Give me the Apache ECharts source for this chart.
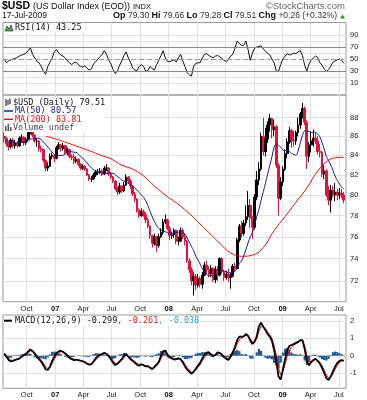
<!DOCTYPE html>
<html>
<head>
<meta charset="utf-8">
<title>$USD US Dollar Index</title>
<script src="https://cdn.jsdelivr.net/npm/echarts@6.0.0/dist/echarts.min.js"></script>
<style>
html,body{margin:0;padding:0;background:#fff;}
#chart{width:367px;height:400px;}
</style>
</head>
<body>
<div id="chart"></div>
<script>
// ---------------- data (one entry per week, Fridays from 21-Jul-2006) ----------------
const firstWeek = '2006-07-21';
// [open, close, low, high]
const ohlc = [
 [86.0,85.8,85.3,86.4],[85.8,85.2,84.9,85.9],[85.2,84.9,84.5,85.4],[84.9,85.6,84.7,85.8],[85.6,85.0,84.8,85.8],
 [85.0,85.3,84.7,85.6],[85.3,85.0,84.8,85.5],[85.0,85.8,84.9,86.0],[85.8,85.9,85.4,86.2],[85.9,85.3,85.0,86.0],
 [85.3,85.7,85.1,85.9],[85.7,86.4,85.5,86.6],[86.4,86.8,86.2,87.1],[86.8,86.1,85.9,86.9],[86.1,85.5,85.3,86.2],
 [85.5,85.5,84.9,85.8],[85.5,84.7,84.4,85.6],[84.7,84.6,84.3,85.0],[84.6,83.5,83.3,84.7],[83.5,82.7,82.4,83.6],
 [82.7,82.9,82.4,83.3],[82.9,83.9,82.8,84.2],[83.9,84.0,83.6,84.3],[84.0,83.7,83.3,84.1],[83.7,84.8,83.6,85.0],
 [84.8,85.1,84.6,85.4],[85.1,84.7,84.4,85.2],[84.7,85.0,84.5,85.3],[85.0,84.3,84.1,85.1],[84.3,84.6,84.0,84.8],
 [84.6,83.9,83.7,84.7],[83.9,83.8,83.5,84.1],[83.8,83.4,83.1,84.2],[83.4,83.6,83.2,83.9],[83.6,83.1,82.9,83.7],
 [83.1,82.7,82.5,83.2],[82.7,82.9,82.5,83.1],[82.9,82.6,82.4,83.0],[82.6,82.0,81.9,82.7],[82.0,81.6,81.4,82.1],
 [81.6,81.6,81.3,81.9],[81.6,82.0,81.5,82.2],[82.0,82.3,81.8,82.5],[82.3,82.3,82.0,82.6],[82.3,82.4,82.1,82.7],
 [82.4,82.1,81.9,82.6],[82.1,82.7,82.0,82.9],[82.7,82.7,82.4,83.1],[82.7,82.1,81.9,82.8],[82.1,81.8,81.6,82.3],
 [81.8,81.4,81.2,81.9],[81.4,80.6,80.5,81.5],[80.6,80.3,80.0,80.8],[80.3,80.9,80.1,81.2],[80.9,80.4,80.2,81.0],
 [80.4,81.0,80.3,81.3],[81.0,81.8,80.9,82.1],[81.8,81.4,81.1,81.9],[81.4,80.9,80.6,81.6],[80.9,80.1,79.9,81.0],
 [80.1,79.6,79.3,80.3],[79.6,78.5,78.3,79.7],[78.5,78.0,77.8,78.7],[78.0,78.4,77.9,78.7],[78.4,78.1,77.9,78.6],
 [78.1,77.6,77.3,78.3],[77.6,77.0,76.8,77.8],[77.0,76.1,75.8,77.1],[76.1,75.4,75.0,76.2],[75.4,76.0,75.2,76.3],
 [76.0,75.2,74.6,76.1],[75.2,76.0,75.0,76.3],[76.0,76.4,75.9,76.8],[76.4,77.4,76.2,77.7],[77.4,77.6,77.2,78.1],
 [77.6,76.8,76.6,77.7],[76.8,76.1,75.7,77.0],[76.1,76.2,75.8,76.5],[76.2,76.6,75.9,76.8],[76.6,75.6,75.3,76.7],
 [75.6,75.6,75.2,76.0],[75.6,76.6,75.5,76.9],[76.6,76.0,75.8,76.8],[76.0,75.6,75.2,76.3],[75.6,73.8,73.6,75.7],
 [73.8,73.0,72.7,74.0],[73.0,72.0,71.6,73.2],[72.0,72.4,70.7,72.8],[72.4,71.6,71.2,72.6],[71.6,72.2,71.4,72.6],
 [72.2,71.7,71.4,72.4],[71.7,72.5,71.3,72.8],[72.5,73.4,72.4,73.7],[73.4,73.0,72.6,73.8],[73.0,72.6,72.3,73.3],
 [72.6,73.1,72.3,73.4],[73.1,72.1,71.9,73.2],[72.1,73.0,71.8,73.3],[73.0,72.5,72.0,73.3],[72.5,74.0,72.4,74.1],
 [74.0,72.8,72.6,74.1],[72.8,72.3,72.0,73.0],[72.3,72.6,72.1,72.9],[72.6,72.3,71.9,73.1],[72.3,72.4,71.3,72.7],
 [72.4,73.3,72.3,73.5],[73.3,73.1,72.8,73.6],[73.1,75.7,73.0,75.9],[75.7,77.0,75.5,77.2],[77.0,76.3,76.0,77.5],
 [76.3,77.3,76.1,77.6],[77.3,77.9,77.0,79.0],[77.9,79.0,77.6,80.4],[79.0,77.8,76.8,79.6],[77.8,76.9,75.8,78.0],
 [76.9,79.8,76.7,80.1],[79.8,81.5,79.5,82.4],[81.5,82.6,81.0,83.3],[82.6,86.0,82.4,86.4],[86.0,84.4,84.0,88.0],
 [84.4,85.7,83.9,86.9],[85.7,87.2,85.3,87.6],[87.2,87.9,86.5,88.4],[87.9,86.7,85.8,88.0],[86.7,87.0,86.0,87.8],
 [87.0,83.0,82.7,87.2],[83.0,79.7,78.0,83.2],[79.7,81.3,79.5,81.8],[81.3,82.6,80.9,82.9],[82.6,84.2,82.4,84.6],
 [84.2,85.4,83.7,85.8],[85.4,86.6,85.2,87.0],[86.6,85.6,84.8,86.8],[85.6,85.5,84.9,86.6],[85.5,86.4,85.1,86.6],
 [86.4,87.2,86.0,88.0],[87.2,88.4,86.8,88.6],[88.4,89.0,87.9,89.6],[89.0,87.5,87.2,89.2],[87.5,83.9,82.6,87.7],
 [83.9,85.1,83.3,85.4],[85.1,85.5,84.3,86.5],[85.5,85.8,84.9,86.7],[85.8,85.5,85.2,86.4],[85.5,84.4,84.1,86.0],
 [84.4,84.3,83.8,85.2],[84.3,82.1,81.8,84.5],[82.1,82.4,81.6,83.0],[82.4,80.0,79.8,82.6],[80.0,79.5,79.0,80.9],
 [79.5,80.5,78.3,81.0],[80.5,80.0,79.8,80.9],[80.0,80.3,79.4,81.2],[80.3,80.0,79.5,80.6],[80.0,80.2,79.6,80.7],
 [80.2,80.0,79.7,80.6],[80.0,79.5,79.2,80.3]
];
const ma50 = [
 85.6,85.5,85.5,85.4,85.4,85.3,85.3,85.3,85.35,85.38,
 85.37,85.49,85.68,85.73,85.78,85.80,85.77,85.65,85.41,85.15,
 84.87,84.62,84.34,84.10,84.03,83.99,83.99,84.03,84.11,84.30,
 84.40,84.39,84.33,84.32,84.15,83.91,83.73,83.49,83.26,82.96,
 82.73,82.55,82.44,82.31,82.24,82.18,82.16,82.17,82.18,82.20,
 82.18,82.04,81.84,81.70,81.50,81.39,81.30,81.17,81.05,80.88,
 80.70,80.49,80.26,80.01,79.78,79.44,78.96,78.43,77.88,77.47,
 77.03,76.78,76.62,76.52,76.47,76.39,76.30,76.31,76.43,76.39,
 76.43,76.49,76.45,76.27,75.89,75.51,75.10,74.72,74.22,73.88,
 73.49,73.08,72.82,72.56,72.44,72.45,72.46,72.52,72.61,72.79,
 72.90,72.88,72.80,72.73,72.71,72.73,72.83,73.10,73.55,73.78,
 74.23,74.79,75.43,75.98,76.43,77.08,77.92,78.61,79.51,80.32,
 81.16,82.09,82.98,83.87,84.88,85.20,85.02,84.89,84.55,84.53,
 84.50,84.44,84.21,84.09,84.03,84.45,85.32,86.09,86.58,86.55,
 86.52,86.41,86.43,86.43,86.23,85.94,85.31,84.65,83.90,83.46,
 83.00,82.45,81.90,81.45,81.10,80.80,80.57
];
// MA(200): read every 5th week (week numbers counted from firstWeek)
const ma200Weeks = [19,24,29,34,39,44,49,54,59,64,69,74,79,84,89,94,99,104,109,114,119,124,129,134,139,144,149,154,156];
const ma200 = [86.0,85.7,85.3,84.9,84.5,84.05,83.65,83.0,82.6,81.9,80.9,80.0,79.25,78.4,77.4,76.4,75.4,74.5,74.2,74.3,75.0,76.6,77.9,79.3,80.7,82.4,83.5,83.8,83.81];
const rsi = [
 50,44,47,49,50,51,53,55,57,58,
 60,64,69,58,52,46,44,38,30,25,
 38,45,52,62,66,60,57,55,52,47,
 44,41,44,45,41,38,37,39,35,32,
 34,42,46,50,54,58,64,58,48,42,
 33,26,31,40,47,56,62,52,45,35,
 32,31,38,41,38,30,31,38,34,32,
 41,48,56,64,52,46,46,47,49,45,
 52,58,47,38,28,24,22,38,43,44,
 44,52,58,59,56,54,52,55,56,54,
 51,48,46,50,55,58,68,80,76,73,
 73,80,66,48,60,68,70,71,72,67,
 63,60,57,50,44,30,30,41,50,55,
 59,57,58,60,59,62,64,56,40,30,
 42,48,52,55,53,44,40,34,29,33,
 38,45,47,49,50,48,43.25
];
const macd = [
 0.12,-0.05,-0.25,-0.33,-0.30,-0.24,-0.20,-0.15,-0.05,0.05,
 0.11,0.25,0.36,0.26,0.12,-0.07,-0.20,-0.35,-0.55,-0.78,
 -0.82,-0.63,-0.30,-0.05,0.16,0.25,0.29,0.23,0.12,0.00,
 -0.13,-0.20,-0.25,-0.22,-0.25,-0.29,-0.32,-0.38,-0.46,-0.52,
 -0.50,-0.33,-0.15,-0.02,0.05,0.11,0.17,0.10,-0.02,-0.20,
 -0.40,-0.54,-0.47,-0.33,-0.20,0.00,0.10,-0.06,-0.20,-0.30,
 -0.40,-0.52,-0.58,-0.49,-0.55,-0.62,-0.60,-0.70,-0.78,-0.65,
 -0.52,-0.35,0.00,0.25,0.30,0.05,-0.10,-0.16,-0.22,-0.20,
 -0.15,-0.20,-0.37,-0.62,-0.80,-0.92,-1.05,-0.92,-0.75,-0.57,
 -0.40,-0.15,0.05,0.18,0.20,0.07,-0.02,0.05,0.20,0.17,
 0.05,-0.08,-0.18,-0.25,-0.05,0.20,0.52,0.90,1.10,1.10,
 1.12,1.25,1.15,0.88,0.68,0.80,1.12,1.70,1.90,1.67,
 1.48,1.25,1.10,0.85,0.30,-0.35,-1.20,-1.38,-0.80,-0.22,
 0.30,0.57,0.62,0.68,0.74,0.80,0.90,0.90,0.40,-0.30,
 -0.55,-0.36,-0.25,-0.18,-0.30,-0.45,-0.70,-1.00,-1.30,-1.40,
 -1.20,-0.90,-0.62,-0.42,-0.30,-0.25,-0.299
];
const signal = [
 0.13,0.02,-0.14,-0.25,-0.28,-0.26,-0.22,-0.18,-0.10,-0.01,
 0.06,0.17,0.28,0.27,0.18,0.03,-0.11,-0.25,-0.43,-0.64,
 -0.75,-0.68,-0.45,-0.21,0.01,0.15,0.23,0.23,0.16,0.06,
 -0.05,-0.14,-0.21,-0.22,-0.24,-0.27,-0.30,-0.35,-0.42,-0.48,
 -0.49,-0.39,-0.25,-0.11,-0.01,0.06,0.13,0.11,0.03,-0.11,
 -0.28,-0.44,-0.46,-0.38,-0.27,-0.11,0.02,-0.03,-0.13,-0.23,
 -0.33,-0.44,-0.52,-0.50,-0.53,-0.58,-0.59,-0.66,-0.73,-0.68,
 -0.58,-0.44,-0.18,0.08,0.21,0.11,-0.02,-0.10,-0.17,-0.19,
 -0.17,-0.19,-0.30,-0.49,-0.68,-0.82,-0.96,-0.94,-0.83,-0.67,
 -0.51,-0.29,-0.09,0.07,0.15,0.10,0.03,0.04,0.14,0.16,
 0.09,-0.01,-0.11,-0.19,-0.11,0.08,0.34,0.68,0.93,1.03,
 1.08,1.18,1.16,0.99,0.80,0.80,0.99,1.42,1.71,1.69,
 1.56,1.37,1.21,0.99,0.58,0.02,-0.71,-1.11,-0.92,-0.50,
 -0.02,0.33,0.50,0.61,0.69,0.76,0.84,0.88,0.59,0.06,
 -0.31,-0.34,-0.29,-0.22,-0.27,-0.38,-0.57,-0.83,-1.11,-1.28,
 -1.23,-1.03,-0.78,-0.56,-0.40,-0.31,-0.261
];
const histogram = [
 -0.02,-0.1,-0.16,-0.12,-0.03,0.03,0.03,0.05,0.08,0.09,
 0.08,0.12,0.12,-0.02,-0.09,-0.15,-0.14,-0.15,-0.18,-0.21,
 -0.1,0.08,0.22,0.24,0.22,0.15,0.09,0,-0.06,-0.09,
 -0.12,-0.09,-0.06,0,-0.02,-0.03,-0.03,-0.05,-0.06,-0.06,
 -0.02,0.09,0.15,0.14,0.09,0.08,0.06,-0.02,-0.08,-0.14,
 -0.18,-0.15,-0.02,0.08,0.1,0.16,0.12,-0.05,-0.1,-0.1,
 -0.1,-0.12,-0.09,0.02,-0.03,-0.06,-0.02,-0.06,-0.08,0.05,
 0.09,0.14,0.27,0.25,0.14,-0.09,-0.12,-0.09,-0.08,-0.02,
 0.03,-0.02,-0.1,-0.2,-0.18,-0.15,-0.14,0.03,0.12,0.15,
 0.16,0.21,0.21,0.16,0.08,-0.05,-0.08,0.02,0.09,0.02,
 -0.06,-0.1,-0.1,-0.09,0.09,0.18,0.27,0.33,0.26,0.1,
 0.06,0.1,-0.02,-0.16,-0.18,0,0.2,0.4,0.28,-0.03,
 -0.12,-0.18,-0.16,-0.21,-0.42,-0.55,-0.74,-0.4,0.18,0.4,
 0.45,0.34,0.18,0.1,0.08,0.06,0.09,0.03,-0.28,-0.54,
 -0.36,-0.03,0.06,0.06,-0.04,-0.1,-0.2,-0.25,-0.28,-0.18,
 0.04,0.2,0.24,0.21,0.15,0.09,-0.038
];
const quarterDates = ['2006-10-01','2007-01-01','2007-04-01','2007-07-01','2007-10-01','2008-01-01','2008-04-01','2008-07-01','2008-10-01','2009-01-01','2009-04-01','2009-07-01'];
const quarterLabels = ['Oct','07','Apr','Jul','Oct','08','Apr','Jul','Oct','09','Apr','Jul'];
const priceTicks = [72,74,76,78,80,82,84,86,88];
const rsiTicks = [10,30,50,70,90];
const rsiGrid = [10,20,30,40,50,60,70,80,90];
const macdTicks = [-1,0,1,2];
const quote = {date:'17-Jul-2009', op:'79.30', hi:'79.66', lo:'79.28', cl:'79.51', chg:'+0.26 (+0.32%)'};
const legendValues = {rsi:'43.25', close:'79.51', ma50:'80.57', ma200:'83.81', macd:'-0.299', sig:'-0.261', hist:'-0.038'};

// ---------------- build ----------------
const DAY = 86400000;
const t0 = Date.parse(firstWeek + 'T00:00:00Z');
const weekDate = i => t0 + i * 7 * DAY;
const dates = ohlc.map((_, i) => weekDate(i));
const qT = quarterDates.map(s => Date.parse(s + 'T00:00:00Z'));
const xMin = Date.parse('2006-07-17T00:00:00Z');
const xMax = Date.parse('2009-07-24T00:00:00Z');
const LN = Math.log;

const axisFont = '"Liberation Sans", Arial, sans-serif';
const monoFont = '"DejaVu Sans Mono", monospace';
const gridColor = '#e2e2e2';

function xAxis(gi, showLabel) {
  return {
    type: 'value', gridIndex: gi, min: xMin, max: xMax,
    axisLine: {show: false},
    axisTick: {show: false, customValues: qT},
    axisLabel: {
      show: showLabel, customValues: qT, margin: 3,
      fontSize: 7.5, fontFamily: axisFont, color: '#222',
      formatter: function (v) {
        let k = 0, best = Infinity;
        qT.forEach((q, j) => { const d = Math.abs(q - v); if (d < best) { best = d; k = j; } });
        const s = quarterLabels[k];
        return /^\d/.test(s) ? '{y|' + s + '}' : s;
      },
      rich: {y: {fontWeight: 'bold', fontSize: 7.5, fontFamily: axisFont, color: '#111'}}
    },
    splitLine: {show: true, lineStyle: {color: gridColor, width: 1}}
  };
}
function yAxis(gi, min, max, labelVals, tickVals, fmt) {
  return {
    type: 'value', gridIndex: gi, position: 'right', min: min, max: max,
    axisLine: {show: false},
    axisTick: {show: false, customValues: tickVals},
    axisLabel: {customValues: labelVals, margin: 4, fontSize: 7.5, fontFamily: axisFont, color: '#222', formatter: fmt},
    splitLine: {show: true, lineStyle: {color: gridColor, width: 1}}
  };
}

const gridBase = {left: 3, right: 21, show: true, borderColor: '#9a9a9a', borderWidth: 1, containLabel: false, outerBoundsMode: 'none'};

const candleData = dates.map((t, i) => [t, LN(ohlc[i][0]), LN(ohlc[i][1]), LN(ohlc[i][2]), LN(ohlc[i][3])]);
const ma50Data = dates.map((t, i) => [t, LN(ma50[i])]);
const ma200Data = ma200Weeks.map((w, i) => [weekDate(w), LN(ma200[i])]);
const rsiData = dates.map((t, i) => [t, rsi[i]]);
const rsiBase70 = dates.map(t => [t, 70]);
const rsiOver70 = dates.map((t, i) => [t, Math.max(rsi[i] - 70, 0)]);
const rsiBase30 = dates.map((t, i) => [t, Math.min(rsi[i], 30)]);
const rsiUnder30 = dates.map((t, i) => [t, 30 - Math.min(rsi[i], 30)]);
const macdData = dates.map((t, i) => [t, macd[i]]);
const sigData = dates.map((t, i) => [t, signal[i]]);
const histData = dates.map((t, i) => [t, histogram[i]]);

const hidden = {opacity: 0, width: 0};

// ---------------- texts / icons ----------------
const G = [];
function txt(x, y, text, font, fill, extra) {
  G.push({type: 'text', x: x, y: y, z: 100, silent: true,
    style: Object.assign({text: text, font: font, fill: fill || '#000', verticalAlign: 'middle', align: 'left'}, extra || {})});
}
function rect(x, y, w, h, fill, z) {
  G.push({type: 'rect', z: z || 99, silent: true, shape: {x: x, y: y, width: w, height: h}, style: {fill: fill}});
}
function line(x1, y1, x2, y2, stroke, w) {
  G.push({type: 'line', z: 101, silent: true, shape: {x1: x1, y1: y1, x2: x2, y2: y2}, style: {stroke: stroke, lineWidth: w || 1}});
}
// header
txt(2, 6, '$USD', 'bold 10.5px ' + axisFont, '#000');
txt(33, 6.5, '(US Dollar Index (EOD))', '9px ' + axisFont, '#111');
txt(133, 6.5, 'INDX', '7.5px ' + axisFont, '#111');
txt(345, 6, '\u00A9StockCharts.com', '9.5px ' + axisFont, '#666', {align: 'right'});
txt(2, 16, quote.date, '8.5px ' + axisFont, '#111');
txt(337, 16, '{b|Op} ' + quote.op + ' {b|Hi} ' + quote.hi + ' {b|Lo} ' + quote.lo + ' {b|Cl} ' + quote.cl + ' {b|Chg} ' + quote.chg,
  '8.5px ' + axisFont, '#333', {align: 'right', rich: {b: {font: 'bold 9px ' + axisFont, fill: '#111'}}});
G.push({type: 'polygon', z: 101, silent: true, shape: {points: [[340, 18.5], [345, 18.5], [342.5, 14.5]]}, style: {fill: '#1a9a1a'}});
// RSI legend
rect(4, 23.5, 82, 8, '#fff');
G.push({type: 'polygon', z: 101, silent: true, shape: {points: [[5, 31], [7, 26], [9, 29], [11, 25], [13, 31]]}, style: {fill: '#5a9a5a', stroke: '#222', lineWidth: 0.6}});
txt(15, 27.5, 'RSI(14) ' + legendValues.rsi, '8.5px ' + monoFont, '#111');
// price legend
rect(4, 97, 100, 35, '#fff');
line(6, 99, 6, 106, '#000', 1); line(8, 100, 8, 105, '#000', 1); line(10, 98.5, 10, 104, '#000', 1);
txt(13, 102.7, '$USD (Daily) ' + legendValues.close, '8.5px ' + monoFont, '#111');
line(4, 111, 13, 111, '#1c1c9a', 1.5);
txt(15, 111, 'MA(50) ' + legendValues.ma50, '8.5px ' + monoFont, '#1c1c9a');
line(4, 119.3, 13, 119.3, '#ee1111', 1.5);
txt(15, 119.3, 'MA(200) ' + legendValues.ma200, '8.5px ' + monoFont, '#ee1111');
rect(5, 126, 1.5, 5, '#555', 101); rect(7.5, 124, 1.5, 7, '#555', 101); rect(10, 127, 1.5, 4, '#555', 101);
txt(13, 127.7, 'Volume undef', '8.5px ' + monoFont, '#444');
// MACD legend
rect(4, 316.5, 192, 8.5, '#fff');
line(4, 320.7, 12, 320.7, '#000', 2);
txt(15, 320.7, 'MACD(12,26,9) ' + legendValues.macd + '{r|, ' + legendValues.sig + '}{c|, ' + legendValues.hist + '}',
  '8.5px ' + monoFont, '#111', {rich: {r: {font: '8.5px ' + monoFont, fill: '#ee1111'}, c: {font: '8.5px ' + monoFont, fill: '#3aa0d8'}}});

// ---------------- chart ----------------
const chart = echarts.init(document.getElementById('chart'), null, {renderer: 'canvas'});
chart.setOption({
  animation: false,
  backgroundColor: '#fff',
  grid: [
    Object.assign({top: 22.5, height: 72.5}, gridBase),
    Object.assign({top: 95, height: 206.7}, gridBase),
    Object.assign({top: 315, height: 73.3}, gridBase)
  ],
  xAxis: [xAxis(0, false), xAxis(1, true), xAxis(2, true)],
  yAxis: [
    yAxis(0, -9.4, 110.7, rsiTicks, rsiGrid, v => String(Math.round(v))),
    yAxis(1, LN(70.17), LN(90.48), priceTicks.map(LN), priceTicks.map(LN), v => String(Math.round(Math.exp(v)))),
    yAxis(2, -1.88, 2.35, macdTicks, macdTicks, v => String(Math.round(v)))
  ],
  graphic: G,
  series: [
    {type: 'line', xAxisIndex: 0, yAxisIndex: 0, data: rsiBase70, stack: 'over', symbol: 'none', lineStyle: hidden, silent: true},
    {type: 'line', xAxisIndex: 0, yAxisIndex: 0, data: rsiOver70, stack: 'over', symbol: 'none', lineStyle: hidden, silent: true,
      areaStyle: {color: '#5f9f5f', opacity: 1}},
    {type: 'line', xAxisIndex: 0, yAxisIndex: 0, data: rsiBase30, stack: 'under', symbol: 'none', lineStyle: hidden, silent: true},
    {type: 'line', xAxisIndex: 0, yAxisIndex: 0, data: rsiUnder30, stack: 'under', symbol: 'none', lineStyle: hidden, silent: true,
      areaStyle: {color: '#b05a5a', opacity: 1}},
    {type: 'line', name: 'RSI(14)', xAxisIndex: 0, yAxisIndex: 0, data: rsiData, symbol: 'none', lineStyle: {color: '#111', width: 1},
      markLine: {silent: true, symbol: 'none', label: {show: false}, animation: false,
        data: [
          {yAxis: 70, lineStyle: {color: '#8a8a8a', width: 1, type: 'solid'}},
          {yAxis: 30, lineStyle: {color: '#8a8a8a', width: 1, type: 'solid'}},
          {yAxis: 50, lineStyle: {color: '#9a9a9a', width: 1, type: [5, 3]}}
        ]}},
    {type: 'candlestick', name: '$USD', xAxisIndex: 1, yAxisIndex: 1, data: candleData, barWidth: 2.2,
      encode: {x: 0, y: [1, 2, 3, 4]},
      itemStyle: {color: '#000', color0: '#e0143c', borderColor: '#000', borderColor0: '#e0143c', borderWidth: 1}},
    {type: 'line', name: 'MA(200)', xAxisIndex: 1, yAxisIndex: 1, data: ma200Data, symbol: 'none', smooth: 0.4,
      lineStyle: {color: '#ee1111', width: 1}},
    {type: 'line', name: 'MA(50)', xAxisIndex: 1, yAxisIndex: 1, data: ma50Data, symbol: 'none', smooth: 0.3,
      lineStyle: {color: '#1c1c9a', width: 1}},
    {type: 'bar', name: 'Hist', xAxisIndex: 2, yAxisIndex: 2, data: histData, barWidth: 2.2, itemStyle: {color: '#23578f'}},
    {type: 'line', name: 'Signal', xAxisIndex: 2, yAxisIndex: 2, data: sigData, symbol: 'none', lineStyle: {color: '#ee1111', width: 1}},
    {type: 'line', name: 'MACD', xAxisIndex: 2, yAxisIndex: 2, data: macdData, symbol: 'none', lineStyle: {color: '#000', width: 1.8}}
  ]
});
</script>
</body>
</html>
